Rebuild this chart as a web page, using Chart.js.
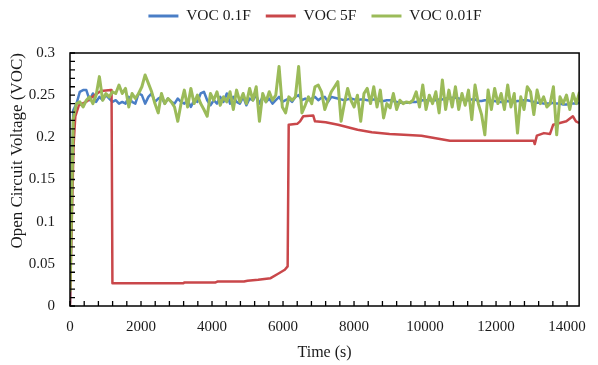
<!DOCTYPE html>
<html>
<head>
<meta charset="utf-8">
<script src="https://cdn.jsdelivr.net/npm/chart.js@4.4.0/dist/chart.umd.min.js"></script>
<style>
  html, body { margin: 0; padding: 0; background: #fff; }
  #wrap { width: 598px; height: 365px; }
</style>
</head>
<body>
<div id="wrap"><canvas id="voc" width="598" height="365"></canvas></div>
<script>
// Series names, as shown in the legend
const seriesNames = ['VOC 0.1F', 'VOC 5F', 'VOC 0.01F'];

// The 0.1F and 0.01F cells were logged every 92 s
const sampleStep = 92;

const voc01F = [
  0.003, 0.232, 0.240, 0.254, 0.256, 0.256, 0.244, 0.252, 0.242, 0.248,
  0.244, 0.250, 0.246, 0.242, 0.244, 0.240, 0.242, 0.240, 0.248, 0.242,
  0.240, 0.252, 0.250, 0.240, 0.248, 0.252, 0.242, 0.246, 0.248, 0.240,
  0.246, 0.242, 0.240, 0.246, 0.242, 0.240, 0.244, 0.236, 0.244, 0.242,
  0.252, 0.254, 0.244, 0.238, 0.244, 0.240, 0.248, 0.242, 0.252, 0.240,
  0.248, 0.242, 0.240, 0.248, 0.238, 0.246, 0.244, 0.250, 0.240, 0.248,
  0.242, 0.246, 0.240, 0.244, 0.248, 0.242, 0.244, 0.246, 0.242, 0.248,
  0.250, 0.244, 0.246, 0.244, 0.246, 0.248, 0.244, 0.247, 0.248, 0.242,
  0.248, 0.247, 0.246, 0.245, 0.244, 0.245, 0.246, 0.245, 0.244, 0.245,
  0.245, 0.244, 0.244, 0.245, 0.245, 0.243, 0.243, 0.244, 0.244, 0.243,
  0.242, 0.241, 0.241, 0.241, 0.241, 0.242, 0.242, 0.243, 0.244, 0.244,
  0.244, 0.244, 0.244, 0.245, 0.245, 0.246, 0.246, 0.247, 0.247, 0.246,
  0.245, 0.244, 0.244, 0.245, 0.245, 0.243, 0.243, 0.244, 0.244, 0.243,
  0.243, 0.242, 0.242, 0.242, 0.243, 0.242, 0.242, 0.243, 0.243, 0.244,
  0.244, 0.243, 0.242, 0.241, 0.241, 0.240, 0.240, 0.240, 0.241, 0.240,
  0.240, 0.239, 0.239, 0.240, 0.240, 0.240, 0.241
];

const voc001F = [
  0.017, 0.222, 0.240, 0.242, 0.236, 0.244, 0.248, 0.240, 0.250, 0.272,
  0.244, 0.252, 0.248, 0.254, 0.252, 0.262, 0.252, 0.258, 0.236, 0.252,
  0.246, 0.252, 0.260, 0.274, 0.264, 0.254, 0.240, 0.229, 0.252, 0.240,
  0.246, 0.242, 0.236, 0.219, 0.240, 0.256, 0.236, 0.258, 0.240, 0.250,
  0.240, 0.233, 0.225, 0.252, 0.244, 0.254, 0.238, 0.248, 0.242, 0.254,
  0.233, 0.256, 0.242, 0.252, 0.240, 0.258, 0.244, 0.260, 0.219, 0.252,
  0.242, 0.254, 0.244, 0.250, 0.284, 0.236, 0.229, 0.248, 0.244, 0.248,
  0.284, 0.229, 0.238, 0.248, 0.240, 0.260, 0.262, 0.254, 0.233, 0.244,
  0.254, 0.260, 0.266, 0.219, 0.240, 0.258, 0.244, 0.236, 0.250, 0.219,
  0.252, 0.258, 0.240, 0.260, 0.236, 0.256, 0.223, 0.240, 0.235, 0.252,
  0.233, 0.244, 0.240, 0.242, 0.241, 0.244, 0.254, 0.236, 0.262, 0.233,
  0.250, 0.240, 0.254, 0.229, 0.268, 0.233, 0.256, 0.236, 0.260, 0.233,
  0.252, 0.238, 0.256, 0.221, 0.262, 0.240, 0.227, 0.203, 0.256, 0.233,
  0.258, 0.240, 0.252, 0.233, 0.262, 0.236, 0.252, 0.205, 0.248, 0.233,
  0.260, 0.254, 0.227, 0.256, 0.240, 0.248, 0.236, 0.240, 0.260, 0.203,
  0.248, 0.240, 0.250, 0.233, 0.252, 0.240, 0.254
];

// The 5F cell: readings at its own times (s)
const voc5FTimes = [
  0, 50, 100, 150, 250, 450, 690, 870, 1150, 1170,
  1195, 3200, 3220, 4100, 4150, 4900, 5000, 5300, 5650, 5850,
  6050, 6130, 6160, 6400, 6480, 6570, 6850, 6900, 7200, 7550,
  8100, 8500, 9000, 9400, 9900, 10300, 10700, 13060, 13090, 13150,
  13350, 13520, 13610, 13980, 14163, 14250, 14340
];
const voc5F = [
  0.000, 0.100, 0.190, 0.225, 0.238, 0.242, 0.250, 0.255, 0.256, 0.256,
  0.027, 0.027, 0.028, 0.028, 0.029, 0.029, 0.030, 0.031, 0.033, 0.038,
  0.043, 0.047, 0.215, 0.216, 0.219, 0.225, 0.226, 0.219, 0.218, 0.215,
  0.209, 0.206, 0.204, 0.203, 0.202, 0.199, 0.196, 0.196, 0.192, 0.202,
  0.205, 0.204, 0.215, 0.219, 0.225, 0.219, 0.217
];

// Axis ranges and labelled ticks
const timeMax = 14340;
const timeTicks = [0, 2000, 4000, 6000, 8000, 10000, 12000, 14000];
const voltTicks = [0, 0.05, 0.1, 0.15, 0.2, 0.25, 0.3];
const timeMarkStep = 400;   // small inward marks along the time axis
const voltMarkStep = 0.01;  // small inward marks along the voltage axis

const serif = 'Liberation Serif, Times New Roman, serif';
const ink = '#1a1a1a';

const sampled = vals => vals.map((v, i) => ({ x: i * sampleStep, y: v }));
const paired = (ts, vals) => ts.map((t, i) => ({ x: t, y: vals[i] }));

// Legend band: fixed height above the plot, row shifted to sit over the data
const legendBand = {
  id: 'legendBand',
  beforeUpdate(chart) {
    const lg = chart.legend;
    if (lg && !lg._bandPatched) {
      const fit = lg.fit;
      lg.fit = function () { fit.call(this); this.height = 53; };
      lg._bandPatched = true;
    }
  },
  afterLayout(chart) {
    const lg = chart.legend;
    const pad = lg.options.labels.padding;
    const size = lg.options.labels.font.size;
    lg.top = 16 - pad - size / 2;
    lg.left += 20;
    lg.right += 20;
  }
};

// Black frame round the plot with inward tick marks
const plotFrame = {
  id: 'plotFrame',
  afterDatasetsDraw(chart) {
    const { ctx, chartArea: a, scales: { x, y } } = chart;
    ctx.save();
    ctx.strokeStyle = '#000';
    ctx.lineWidth = 1.5;
    ctx.strokeRect(a.left, a.top, a.right - a.left, a.bottom - a.top);
    ctx.lineWidth = 1.3;
    ctx.beginPath();
    for (let t = 0; t <= timeMax; t += timeMarkStep) {
      const px = x.getPixelForValue(t);
      ctx.moveTo(px, a.bottom);
      ctx.lineTo(px, a.bottom - 5);
    }
    for (let k = 0; k <= 30; k++) {
      const py = y.getPixelForValue(k * voltMarkStep);
      ctx.moveTo(a.left, py);
      ctx.lineTo(a.left + 5, py);
    }
    ctx.stroke();
    ctx.restore();
  }
};

new Chart(document.getElementById('voc'), {
  type: 'line',
  data: {
    datasets: [
      { label: seriesNames[2], data: sampled(voc001F), borderColor: '#9BBB59', backgroundColor: '#9BBB59', borderWidth: 3 },
      { label: seriesNames[1], data: paired(voc5FTimes, voc5F), borderColor: '#C9474A', backgroundColor: '#C9474A' },
      { label: seriesNames[0], data: sampled(voc01F), borderColor: '#4A7EC6', backgroundColor: '#4A7EC6' }
    ]
  },
  options: {
    responsive: false,
    animation: false,
    events: [],
    elements: {
      point: { radius: 0 },
      line: { borderWidth: 2.5, tension: 0, borderJoinStyle: 'round' }
    },
    layout: { padding: { left: 0, right: 8, top: 0, bottom: 0 } },
    plugins: {
      tooltip: { enabled: false },
      legend: {
        position: 'top',
        labels: {
          boxWidth: 30,
          boxHeight: 3,
          padding: 15,
          color: ink,
          font: { family: serif, size: 15.5 },
          sort: (a, b) => b.datasetIndex - a.datasetIndex,
          generateLabels: chart => Chart.defaults.plugins.legend.labels
            .generateLabels(chart).map(l => Object.assign(l, { lineWidth: 0 }))
        }
      }
    },
    scales: {
      x: {
        type: 'linear',
        min: 0,
        max: timeMax,
        afterBuildTicks: s => { s.ticks = timeTicks.map(v => ({ value: v })); },
        afterFit: s => { s.height = 59; },
        grid: { display: false, drawTicks: false },
        border: { display: false },
        ticks: {
          padding: 12, color: ink, maxRotation: 0, autoSkip: false,
          font: { family: serif, size: 15 },
          callback: v => String(v)
        },
        title: {
          display: true, text: 'Time (s)', color: ink,
          font: { family: serif, size: 16 },
          padding: { top: 0, bottom: 2.4 }
        }
      },
      y: {
        type: 'linear',
        min: 0,
        max: 0.3,
        afterBuildTicks: s => { s.ticks = voltTicks.map(v => ({ value: v })); },
        afterFit: s => { s.width = 70; },
        grid: { display: false, drawTicks: false },
        border: { display: false },
        ticks: {
          padding: 15, color: ink,
          font: { family: serif, size: 15 },
          callback: v => String(Number(v.toFixed(2)))
        },
        title: {
          display: true, text: 'Open Circuit Voltage (VOC)', color: ink,
          align: 'end',
          font: { family: serif, size: 17 },
          padding: { top: 7, bottom: 0 }
        }
      }
    }
  },
  plugins: [legendBand, plotFrame]
});
</script>
</body>
</html>
